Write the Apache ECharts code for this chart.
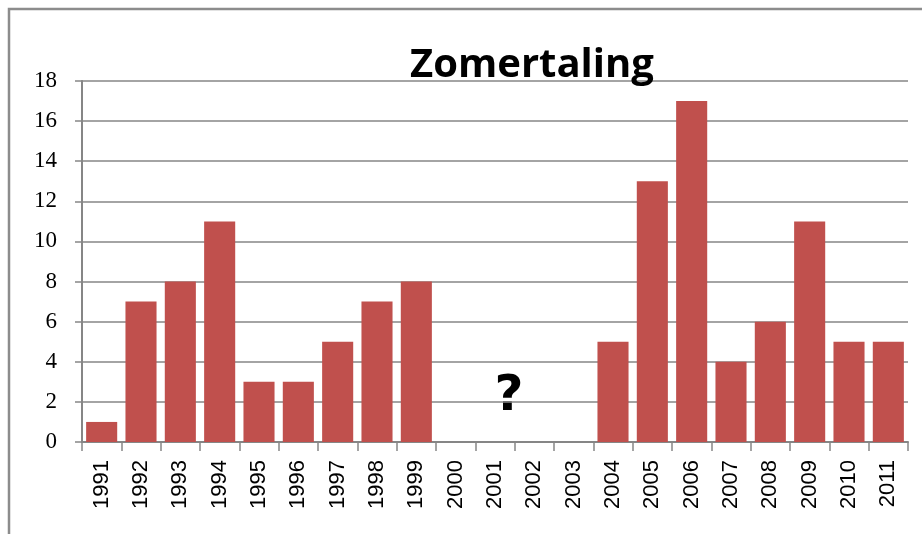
<!DOCTYPE html>
<html>
<head>
<meta charset="utf-8">
<script src="https://cdn.jsdelivr.net/npm/echarts@6/dist/echarts.min.js"></script>
<style>
  html, body { margin: 0; padding: 0; background: #fff; }
  #chart { width: 922px; height: 534px; }
</style>
</head>
<body>
<div id="chart"></div>
<script>
// ---- Data ----
const years = ['1991', '1992', '1993', '1994', '1995', '1996', '1997', '1998', '1999', '2000', '2001',
  '2002', '2003', '2004', '2005', '2006', '2007', '2008', '2009', '2010', '2011'];
const counts = [1, 7, 8, 11, 3, 3, 5, 7, 8, null, null, null, null, 5, 13, 17, 4, 6, 11, 5, 5];
const yTicks = [0, 2, 4, 6, 8, 10, 12, 14, 16, 18];

const chart = echarts.init(document.getElementById('chart'));
const option = {
  animation: false,
  backgroundColor: '#fff',
  title: {
    text: 'Zomertaling',
    left: 527,
    top: 41,
    textAlign: 'center',
    textStyle: { fontFamily: 'Open Sans', fontWeight: 'bold', fontSize: 40, color: '#000' }
  },
  grid: { left: 82, right: 14, top: 81, bottom: 92 },
  xAxis: {
    type: 'category',
    data: years,
    axisLine: { lineStyle: { color: '#868686', width: 2 } },
    axisTick: { show: true, length: 9, lineStyle: { color: '#868686', width: 1.5 } },
    axisLabel: {
      rotate: 90,
      margin: 18,
      fontFamily: 'Liberation Sans',
      fontSize: 22,
      color: '#000'
    }
  },
  yAxis: {
    type: 'value',
    min: 0,
    max: 18,
    interval: 2,
    axisLine: { show: true, lineStyle: { color: '#868686', width: 2 } },
    axisTick: { show: true, length: 7, lineStyle: { color: '#868686', width: 1.5 } },
    axisLabel: {
      margin: 25,
      fontFamily: 'Liberation Serif',
      fontSize: 23,
      color: '#000',
      formatter: v => (yTicks.includes(v) ? String(v) : '')
    },
    splitLine: { lineStyle: { color: '#868686', width: 1.5 } }
  },
  series: [{
    type: 'bar',
    data: counts,
    barCategoryGap: '21%',
    itemStyle: { color: '#C0504D' }
  }],
  graphic: [
    { type: 'rect', shape: { x: 9, y: 9, width: 930, height: 540 }, style: { fill: 'none', stroke: '#8c8c8c', lineWidth: 2.5 }, z: 0 },
    { type: 'text', x: 509, y: 397, style: { text: '?', align: 'center', verticalAlign: 'middle', fontFamily: 'DejaVu Sans', fontWeight: 'bold', fontSize: 50, fill: '#000' } }
  ]
};
chart.setOption(option);
window.addEventListener('resize', () => chart.resize());
</script>
</body>
</html>
